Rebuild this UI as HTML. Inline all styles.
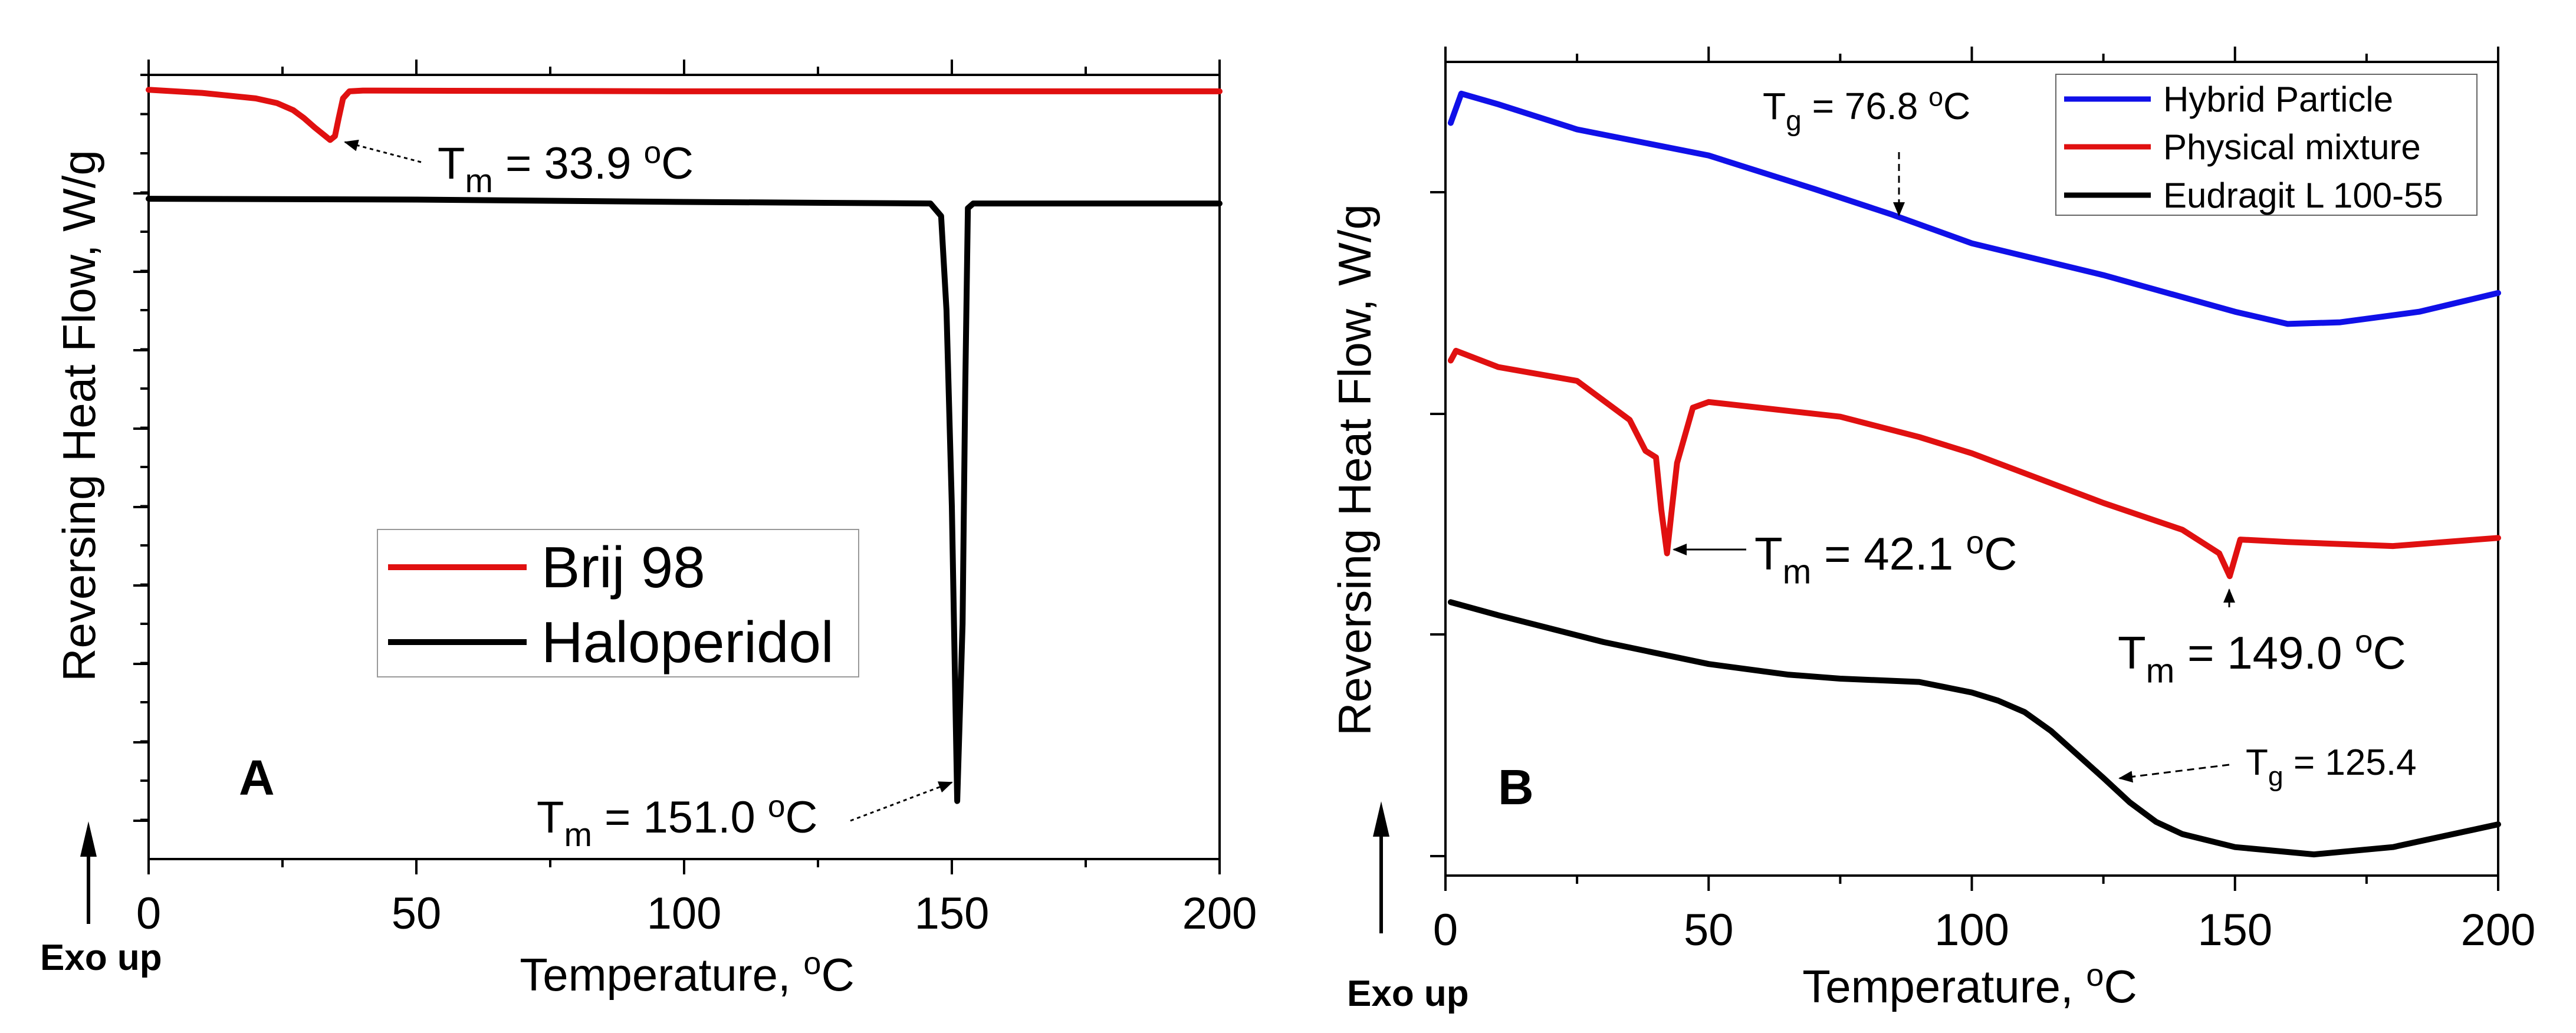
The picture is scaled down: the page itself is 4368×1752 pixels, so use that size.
<!DOCTYPE html>
<html><head><meta charset="utf-8"><style>
html,body{margin:0;padding:0;background:#fff;}
svg{display:block;font-family:"Liberation Sans",sans-serif;}
</style></head><body>
<svg id="fig" width="4368" height="1752" viewBox="0 0 4368 1752" xmlns="http://www.w3.org/2000/svg">
<defs>
<marker id="ah2" markerWidth="24" markerHeight="20" refX="22" refY="10" orient="auto" markerUnits="userSpaceOnUse" viewBox="0 0 24 20"><path d="M0,0 L24,10 L0,20 z" fill="#000"/></marker>
</defs>
<g id="panelA"></g>
<g id="panelB"></g>
</svg>
<script>
// ---- Panel A data ----
const aTemps = [0, 10, 20, 24, 27, 29, 31, 33, 33.9, 34.8, 35.5, 36.3, 37.5, 40, 100, 200];
const aBrij = [9.81, 9.77, 9.70, 9.64, 9.55, 9.45, 9.33, 9.22, 9.17, 9.22, 9.45, 9.70, 9.79, 9.80, 9.79, 9.79];
const aHaloT = [0, 50, 100, 146, 148, 149, 150, 151, 152, 152.5, 153, 154, 200];
const aHalo = [8.42, 8.41, 8.38, 8.36, 8.2, 7.0, 4.5, 0.74, 3.0, 6.0, 8.3, 8.36, 8.36];
// ---- Panel B data ----
const bHybT = [1, 3, 10, 25, 50, 70, 85, 100, 125, 150, 160, 170, 185, 200];
const bHyb = [9.25, 9.61, 9.48, 9.17, 8.85, 8.44, 8.12, 7.77, 7.38, 6.93, 6.78, 6.80, 6.93, 7.16];
const bPhysT = [1, 2, 10, 25, 35, 38, 40, 41, 42.1, 43, 44, 47, 50, 75, 90, 100, 125, 140, 147, 149, 151, 160, 180, 200];
const bPhys = [6.33, 6.45, 6.25, 6.08, 5.6, 5.22, 5.14, 4.5, 3.96, 4.5, 5.07, 5.75, 5.82, 5.64, 5.39, 5.19, 4.58, 4.25, 3.96, 3.68, 4.13, 4.10, 4.05, 4.15];
const bEudT = [1, 10, 30, 50, 65, 75, 90, 100, 105, 110, 115, 120, 125, 130, 135, 140, 150, 165, 180, 200];
const bEud = [3.36, 3.20, 2.87, 2.60, 2.47, 2.42, 2.38, 2.25, 2.15, 2.01, 1.78, 1.49, 1.20, 0.90, 0.66, 0.51, 0.35, 0.26, 0.35, 0.63];
const xTickLabels = ["0", "50", "100", "150", "200"];
const xTickValues = [0, 50, 100, 150, 200];

const NS = "http://www.w3.org/2000/svg";
function mk(parent, tag, attrs, text) {
  const e = document.createElementNS(NS, tag);
  for (const k in attrs) e.setAttribute(k, attrs[k]);
  if (text !== undefined) e.textContent = text;
  parent.appendChild(e);
  return e;
}
function scale(d0, d1, r0, r1) { return v => r0 + (v - d0) * (r1 - r0) / (d1 - d0); }

function frame(g, L, R, T, B, yMajors, yMinors, ys) {
  const x = scale(0, 200, L, R);
  const box = mk(g, "rect", {x: L, y: T, width: R - L, height: B - T, fill: "none", stroke: "#000", "stroke-width": 4});
  
  
  for (let v = 0; v <= 200; v += 25) {
    const major = v % 50 === 0;
    const len = major ? 26 : 14;
    const t1 = mk(g, "line", {x1: x(v), x2: x(v), y1: B, y2: B + len, stroke: "#000", "stroke-width": 4});
    
    
    const t2 = mk(g, "line", {x1: x(v), x2: x(v), y1: T, y2: T - len, stroke: "#000", "stroke-width": 4});
    
    
  }
  xTickValues.forEach((v, i) => {
    const t = mk(g, "text", {x: x(v), y: B + 118, "font-size": 76, "text-anchor": "middle"}, xTickLabels[i]);
    
    
  });
  yMajors.forEach(v => {
    const t = mk(g, "line", {x1: L, x2: L - 26, y1: ys(v), y2: ys(v), stroke: "#000", "stroke-width": 4});
    
    
  });
  yMinors.forEach(v => {
    const t = mk(g, "line", {x1: L, x2: L - 14, y1: ys(v), y2: ys(v), stroke: "#000", "stroke-width": 4});
    
    
  });
  return x;
}
function series(g, xs, ys, T, V, color, w, name) {
  const pts = T.map((t, i) => xs(t).toFixed(1) + "," + ys(V[i]).toFixed(1)).join(" ");
  const p = mk(g, "polyline", {points: pts, fill: "none", stroke: color, "stroke-width": w, "stroke-linejoin": "round", "stroke-linecap": "round"});
  
  
}
function label(g, x, y, fs, sub, rest, name) {
  const t = mk(g, "text", {x: x, y: y, "font-size": fs});
  
  
  mk(t, "tspan", {}, "T");
  mk(t, "tspan", {dy: fs * 0.3, "font-size": fs * 0.75}, sub);
  mk(t, "tspan", {dy: -fs * 0.3}, " = " + rest[0] + (rest[1] !== undefined ? " " : ""));
  if (rest[1] !== undefined) {
    mk(t, "tspan", {dy: -fs * 0.35, "font-size": fs * 0.7}, "o");
    mk(t, "tspan", {dy: fs * 0.35}, "C");
  }
}
function arrowLine(g, x1, y1, x2, y2, dash, name) {
  const l = mk(g, "line", {x1, y1, x2, y2, stroke: "#000", "stroke-width": 3, "stroke-dasharray": dash, "marker-end": "url(#ah2)"});
  
  
}
function common(g, titleX, titleY, arrowX, aTop, aBot, exoX, exoY, xTitleX, xTitleY) {
  const yt = mk(g, "text", {x: titleX, y: titleY, "font-size": 78, "text-anchor": "middle", transform: `rotate(-90 ${titleX} ${titleY})`}, "Reversing Heat Flow, W/g");
  
  
  const xt = mk(g, "text", {x: xTitleX, y: xTitleY, "font-size": 78, "text-anchor": "middle"});
  
  
  mk(xt, "tspan", {}, "Temperature, ");
  mk(xt, "tspan", {dy: -28, "font-size": 54}, "o");
  mk(xt, "tspan", {dy: 28}, "C");
  const ar = mk(g, "line", {x1: arrowX, x2: arrowX, y1: aBot, y2: aTop + 30, stroke: "#000", "stroke-width": 6});
  
  
  const ah = mk(g, "path", {d: `M${arrowX - 14},${aTop + 60} L${arrowX},${aTop} L${arrowX + 14},${aTop + 60} z`, fill: "#000"});
  
  
  const ex = mk(g, "text", {x: exoX, y: exoY, "font-size": 62, "font-weight": "bold"}, "Exo up");
  
  
}

// ---- Panel A ----
(function () {
  const g = document.getElementById("panelA");
  const L = 252, R = 2068, T = 127, B = 1457;
  const ys = scale(0, 10, B, T);
  const majors = [], minors = [];
  for (let k = 0; k <= 9; k++) majors.push(10 - (328 - T) / 133 - k);
  for (let k = 0; k <= 19; k++) minors.push(10 - k * 0.5);
  const xs = frame(g, L, R, T, B, majors.filter(v => v > 0), minors, ys);
  series(g, xs, ys, aHaloT, aHalo, "#000", 10, "haloperidol-line");
  series(g, xs, ys, aTemps, aBrij, "#e01010", 10, "brij98-line");
  common(g, 161, 705, 150, 1393, 1567, 68, 1645, 1165, 1680);
  label(g, 742, 303, 76, "m", ["33.9", 1], "annotation-tm-33.9");
  arrowLine(g, 714, 275, 585, 241, "6,6", "annotation-arrow-33.9");
  label(g, 910, 1412, 76, "m", ["151.0", 1], "annotation-tm-151.0");
  arrowLine(g, 1442, 1392, 1614, 1327, "6,6", "annotation-arrow-151.0");
  const pa = mk(g, "text", {x: 405, y: 1348, "font-size": 84, "font-weight": "bold"}, "A");
  
  
  const lg = mk(g, "g", {});
  
  
  mk(lg, "rect", {x: 640, y: 898, width: 816, height: 250, fill: "#fff", stroke: "#999", "stroke-width": 2});
  const l1 = mk(lg, "line", {x1: 658, x2: 893, y1: 962, y2: 962, stroke: "#e01010", "stroke-width": 10});
  
  
  const t1 = mk(lg, "text", {x: 918, y: 996, "font-size": 98}, "Brij 98");
  
  
  const l2 = mk(lg, "line", {x1: 658, x2: 893, y1: 1089, y2: 1089, stroke: "#000", "stroke-width": 10});
  
  
  const t2 = mk(lg, "text", {x: 918, y: 1123, "font-size": 98}, "Haloperidol");
  
  
})();

// ---- Panel B ----
(function () {
  const g = document.getElementById("panelB");
  const L = 2451, R = 4236, T = 105, B = 1485;
  const ys = scale(0, 10, B, T);
  const majors = [326, 702, 1076, 1452].map(p => (B - p) / 138);
  const xs = frame(g, L, R, T, B, majors, [], ys);
  series(g, xs, ys, bEudT, bEud, "#000", 10, "eudragit-line");
  series(g, xs, ys, bPhysT, bPhys, "#e01010", 10, "physical-mixture-line");
  series(g, xs, ys, bHybT, bHyb, "#1010e8", 10, "hybrid-particle-line");
  common(g, 2324, 797, 2342, 1359, 1583, 2284, 1706, 3340, 1700);
  label(g, 2989, 202, 64, "g", ["76.8", 1], "annotation-tg-76.8");
  arrowLine(g, 3220, 258, 3220, 365, "12,8", "annotation-arrow-76.8");
  label(g, 2975, 966, 78, "m", ["42.1", 1], "annotation-tm-42.1");
  arrowLine(g, 2961, 932, 2838, 932, "none", "annotation-arrow-42.1");
  label(g, 3591, 1134, 78, "m", ["149.0", 1], "annotation-tm-149.0");
  arrowLine(g, 3780, 1030, 3780, 1000, "none", "annotation-arrow-149.0");
  label(g, 3808, 1314, 62, "g", ["125.4"], "annotation-tg-125.4");
  arrowLine(g, 3780, 1297, 3594, 1320, "12,8", "annotation-arrow-125.4");
  const pb = mk(g, "text", {x: 2540, y: 1364, "font-size": 84, "font-weight": "bold"}, "B");
  
  
  const lg = mk(g, "g", {});
  
  
  mk(lg, "rect", {x: 3486, y: 126, width: 714, height: 239, fill: "#fff", stroke: "#666", "stroke-width": 2});
  const names = ["Hybrid Particle", "Physical mixture", "Eudragit L 100-55"];
  const cols = ["#1010e8", "#e01010", "#000"];
  const yy = [168, 249, 331];
  const keys = ["hybrid", "physical", "eudragit"];
  names.forEach((n, i) => {
    const l = mk(lg, "line", {x1: 3500, x2: 3647, y1: yy[i], y2: yy[i], stroke: cols[i], "stroke-width": 9});
    
    
    const t = mk(lg, "text", {x: 3668, y: yy[i] + 21, "font-size": 60}, n);
    
    
  });
})();
</script>
</body></html>
